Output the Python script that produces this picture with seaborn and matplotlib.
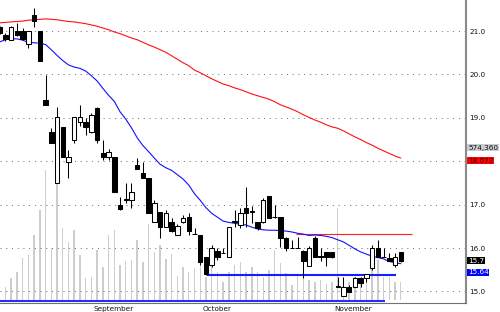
import numpy as np
import pandas as pd
import matplotlib
matplotlib.use("Agg")
import matplotlib.pyplot as plt
import matplotlib.transforms as mtransforms
import seaborn as sns

# ---------------- data ----------------
opens = [21.09, 20.91, 20.80, 21.01, 21.01, 20.70, 21.36, 21.01, 19.41, 18.68,
         17.49, 18.80, 17.99, 18.49, 18.90, 18.91, 18.68, 19.22, 18.20, 18.10,
         18.10, 16.99, 17.10, 17.11, 17.91, 17.72, 17.61, 16.61, 16.84, 16.49,
         16.61, 16.30, 16.60, 16.72, 16.33, 16.30, 15.80, 15.61, 15.92, 15.89,
         15.80, 16.60, 16.53, 16.92, 16.84, 16.61, 16.61, 17.21, 16.71, 16.72,
         16.22, 16.00, 16.00, 15.92, 15.59, 16.22, 15.81, 15.90, 15.90, 15.11,
         14.90, 15.11, 15.11, 15.30, 15.30, 15.53, 16.00, 15.80, 15.78, 15.61,
         15.90]
highs = [21.12, 20.95, 21.12, 21.18, 21.06, 21.01, 21.52, 21.01, 19.99, 18.76,
         19.26, 18.80, 18.27, 19.01, 19.29, 18.99, 19.12, 19.24, 18.49, 18.28,
         18.10, 17.18, 17.50, 17.50, 18.07, 17.99, 17.61, 17.10, 16.84, 16.87,
         16.69, 16.55, 16.76, 16.80, 16.45, 16.30, 15.80, 16.07, 15.99, 16.00,
         16.49, 16.88, 16.92, 17.41, 16.96, 16.61, 17.15, 17.21, 17.00, 16.72,
         16.26, 16.18, 16.26, 15.95, 16.05, 16.27, 16.00, 15.90, 15.91, 15.34,
         15.34, 15.15, 15.34, 15.34, 15.40, 16.07, 16.18, 16.00, 15.88, 15.88,
         15.90]
lows = [20.93, 20.78, 20.80, 20.88, 20.79, 20.62, 21.10, 20.31, 19.29, 18.41,
        17.49, 18.10, 17.61, 18.41, 18.81, 18.60, 18.66, 18.41, 18.03, 18.03,
        17.30, 16.88, 17.04, 16.92, 17.81, 17.61, 16.80, 16.61, 16.22, 16.49,
        16.38, 16.30, 16.57, 16.30, 16.32, 15.60, 15.38, 15.57, 15.72, 15.88,
        15.80, 16.49, 16.46, 16.49, 16.57, 16.42, 16.58, 16.70, 16.70, 16.03,
        15.92, 15.99, 15.99, 15.30, 15.59, 15.80, 15.69, 15.59, 15.76, 15.11,
        14.90, 14.99, 15.11, 15.11, 15.22, 15.49, 15.80, 15.80, 15.69, 15.57,
        15.68]
closes = [20.95, 20.82, 21.10, 20.91, 20.81, 21.01, 21.22, 20.31, 19.29, 18.41,
          19.01, 18.10, 18.10, 19.01, 19.01, 18.80, 19.06, 18.49, 18.10, 18.22,
          17.30, 16.89, 17.12, 17.30, 17.81, 17.61, 16.80, 17.03, 16.49, 16.81,
          16.39, 16.51, 16.70, 16.40, 16.33, 15.68, 15.40, 16.00, 15.80, 15.89,
          16.49, 16.62, 16.80, 16.80, 16.84, 16.45, 17.11, 16.70, 16.71, 16.22,
          15.99, 16.00, 16.00, 15.69, 16.01, 15.80, 15.80, 15.80, 15.80, 15.11,
          15.11, 14.99, 15.32, 15.19, 15.40, 16.00, 15.80, 15.80, 15.69, 15.79,
          15.70]
volumes = [1255000, 417000, 681000, 888000, 1309000, 1412000, 2040000, 2825000,
           4080000, 1623000, 3704000, 2250000, 1830000, 2197000, 1412000, 681000,
           731000, 1569000, 1045000, 2040000, 2197000, 1099000, 1224000, 1255000,
           1883000, 1193000, 2385000, 1507000, 1726000, 1287000, 1444000, 753000,
           1036000, 879000, 1004000, 1067000, 722000, 1099000, 879000, 565000,
           879000, 1099000, 1193000, 879000, 1036000, 879000, 722000, 942000,
           1569000, 1161000, 847000, 471000, 785000, 690000, 628000, 565000,
           628000, 502000, 565000, 2888000, 690000, 565000, 722000, 628000,
           722000, 1004000, 1255000, 722000, 722000, 565000, 574360]
ma_fast = [20.75, 20.80, 20.82, 20.82, 20.79, 20.74, 20.73, 20.72, 20.69, 20.57,
           20.44, 20.32, 20.22, 20.17, 20.14, 20.08, 19.97, 19.85, 19.68, 19.52,
           19.38, 19.14, 18.97, 18.77, 18.54, 18.36, 18.22, 18.07, 17.93, 17.85,
           17.79, 17.69, 17.59, 17.45, 17.25, 17.10, 16.93, 16.80, 16.71, 16.62,
           16.59, 16.57, 16.55, 16.53, 16.48, 16.44, 16.42, 16.41, 16.41, 16.40,
           16.39, 16.37, 16.34, 16.32, 16.29, 16.30, 16.29, 16.27, 16.24, 16.19,
           16.14, 16.06, 15.98, 15.91, 15.86, 15.81, 15.78, 15.75, 15.69, 15.66,
           15.64]
ma_slow = [21.19, 21.20, 21.21, 21.22, 21.23, 21.25, 21.26, 21.27, 21.28, 21.27,
           21.26, 21.24, 21.22, 21.21, 21.19, 21.17, 21.14, 21.11, 21.07, 21.03,
           20.98, 20.94, 20.89, 20.84, 20.80, 20.74, 20.68, 20.63, 20.57, 20.51,
           20.43, 20.35, 20.27, 20.20, 20.10, 20.04, 19.97, 19.90, 19.84, 19.78,
           19.74, 19.69, 19.65, 19.60, 19.55, 19.51, 19.47, 19.43, 19.37, 19.30,
           19.25, 19.20, 19.14, 19.07, 19.01, 18.95, 18.90, 18.84, 18.79, 18.76,
           18.70, 18.63, 18.56, 18.50, 18.43, 18.37, 18.30, 18.24, 18.18, 18.12,
           18.072]
month_labels = ["September", "October", "November"]
month_index = [16, 35, 58]
price_ticks = [15.0, 16.0, 17.0, 18.0, 19.0, 20.0, 21.0]
# the 18.0 label is hidden behind the 18.072 marker in the reference
price_tick_labels = ["15.0", "16.0", "17.0", "", "19.0", "20.0", "21.0"]
resistance_level = 16.32
support_level = 15.38
floor_level = 14.79

# ---------------- layout / style constants ----------------
resistance_span = (51.8, 72.0)
support_span = (36.2, 69.2)
floor_span = (0.0, 67.2)
label_pos = {"vol": 18.31, "slow": 18.01, "close": 15.71, "fast": 15.44}

sns.set_style("white")
plt.rcParams['font.family'] = ['DejaVu Sans']

df = pd.DataFrame({"i": np.arange(len(closes)), "o": opens, "h": highs,
                   "l": lows, "c": closes, "v": volumes,
                   "fast": ma_fast, "slow": ma_slow})

fig = plt.figure(figsize=(5.0, 3.12), dpi=100)
ax = fig.add_axes([0.0, 0.0298, 0.931, 0.970])
axv = ax.twinx()
ax.set_zorder(2)
axv.set_zorder(1)
ax.patch.set_visible(False)

# volume
axv.bar(df["i"], df["v"], width=0.25, color="#cdcdcd", linewidth=0)
axv.set_ylim(-84742, 9415800)
axv.set_yticks([])
for s in axv.spines.values():
    s.set_visible(False)

# gridlines
for p in price_ticks:
    ax.axhline(p, color="#707070", lw=0.72, linestyle=(0, (1, 4.73)), zorder=1)

# horizontal levels
ax.hlines(floor_level, *floor_span, color="#2030ff", lw=1.5, zorder=2)
ax.hlines(support_level, *support_span, color="#1020ff", lw=1.5, zorder=2)
ax.hlines(resistance_level, *resistance_span, color="#ff2020", lw=0.8, zorder=2)

# moving averages
sns.lineplot(data=df, x="i", y="slow", ax=ax, color="#ff1010", lw=0.8, zorder=3)
sns.lineplot(data=df, x="i", y="fast", ax=ax, color="#1010ff", lw=0.8, zorder=3)

# candles
ax.vlines(df["i"], df["l"], df["h"], color="black", lw=0.75, zorder=4)
up = df["c"] >= df["o"]
body_bottom = np.minimum(df["o"], df["c"])
body_h = np.maximum(np.abs(df["c"] - df["o"]), 0.004)
ax.bar(df["i"][up], body_h[up], bottom=body_bottom[up], width=0.78,
       color="white", edgecolor="black", linewidth=0.75, zorder=5)
ax.bar(df["i"][~up], body_h[~up], bottom=body_bottom[~up], width=0.78,
       color="black", edgecolor="black", linewidth=0.75, zorder=5)

ax.set_xlim(0.05, 81.3)
ax.set_ylim(14.74, 21.714)
ax.set_xlabel("")
ax.set_ylabel("")

# axes decoration
ax.yaxis.tick_right()
ax.set_yticks(price_ticks)
ax.set_yticklabels(price_tick_labels)
ax.tick_params(axis="y", length=0, pad=2.6, labelsize=5.2, colors="#111111")
ax.set_xticks(month_index)
ax.set_xticklabels(month_labels)
ax.tick_params(axis="x", length=2.2, width=0.6, pad=0.2, labelsize=5.2,
               colors="#111111", direction="out")
offset = mtransforms.ScaledTranslation(2.4 / 100, 0, fig.dpi_scale_trans)
for lab in ax.get_xticklabels():
    lab.set_ha("left")
    lab.set_transform(lab.get_transform() + offset)

for name in ["left", "top"]:
    ax.spines[name].set_visible(False)
ax.spines["right"].set_color("#8a8a8a")
ax.spines["right"].set_linewidth(1.5)
ax.spines["bottom"].set_color("#707070")
ax.spines["bottom"].set_linewidth(0.8)

# value labels on the right
tr = mtransforms.blended_transform_factory(ax.transAxes, ax.transData)
boxes = [
    (label_pos["vol"], f"{volumes[-1]:,}", "#c9ccd0", "#111111"),
    (label_pos["slow"], f"{ma_slow[-1]:.3f}", "#ff0000", "#330000"),
    (label_pos["close"], f"{closes[-1]:g}", "#000000", "#ffffff"),
    (label_pos["fast"], f"{ma_fast[-1]:.2f}", "#0000ff", "#ffffff"),
]
for y, txt, fc, tc in boxes:
    ax.text(1.0055, y, txt, transform=tr, ha="left", va="center",
            fontsize=5.2, color=tc, zorder=10, clip_on=False,
            bbox=dict(boxstyle="square,pad=0.08", fc=fc, ec="none"))

fig.savefig("out.png", dpi=100)
